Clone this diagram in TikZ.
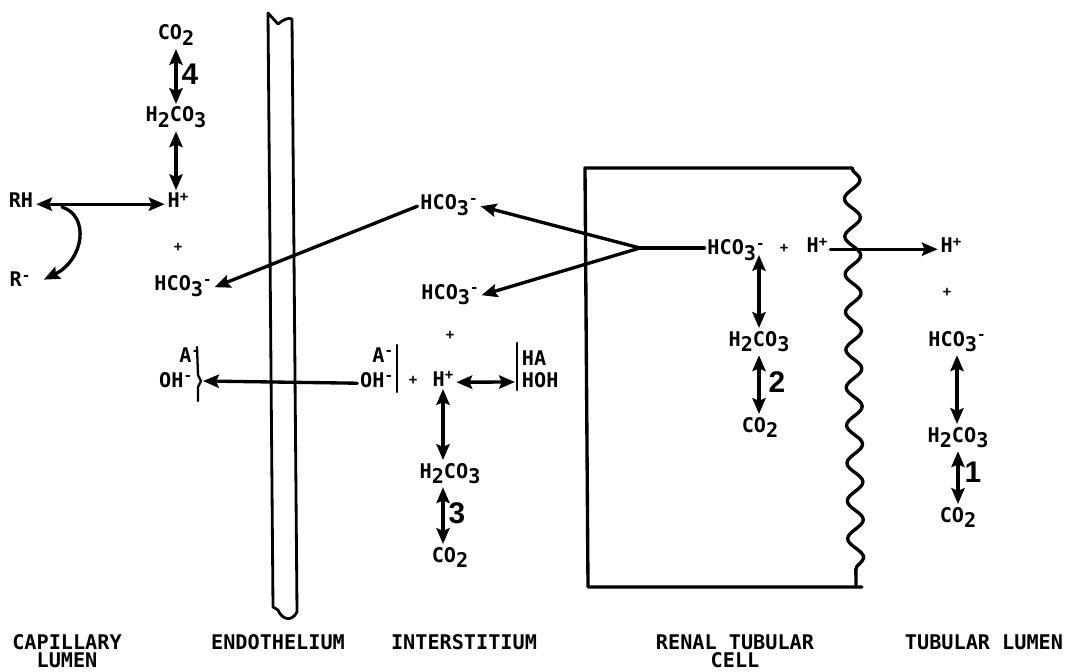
\documentclass[tikz,border=0pt]{standalone}
\usepackage{fontspec}
\newfontfamily\chemfont{DejaVu Sans Mono}
\newfontfamily\numfont{Liberation Sans}
\usetikzlibrary{arrows.meta,decorations.pathmorphing}
\newcommand{\chsub}[1]{\raisebox{-3.4pt}{#1}}
\newcommand{\chsup}[1]{\raisebox{3.8pt}{\fontsize{8}{8}\selectfont #1}}
\newcommand{\chplus}{{\fontsize{8}{8}\selectfont +}}

\begin{document}
\begin{tikzpicture}[x=0.02cm,y=-0.02cm,line cap=round,line join=round,
  chem/.style={font=\chemfont\bfseries\fontsize{11.5}{12}\selectfont,inner sep=1.5pt,anchor=base},
  zone/.style={font=\chemfont\bfseries\fontsize{11.5}{10.4}\selectfont,align=center,inner sep=0pt,anchor=north},
  num/.style={font=\numfont\bfseries\fontsize{17}{17}\selectfont,inner sep=0pt},
  ln/.style={line width=1.9pt},
  arr/.style={ln,-{Stealth[length=9pt,width=7.5pt,inset=1.5pt]}},
  dbl/.style={ln,{Stealth[length=9pt,width=7.5pt,inset=1.5pt]}-{Stealth[length=9pt,width=7.5pt,inset=1.5pt]}}]
  \useasboundingbox (0,0) rectangle (1065,672);

  \draw[line width=1.6pt] (273,607) -- (268,13) -- (278,24) .. controls (283,20) and (288,17) .. (292,19)
    -- (297,612) .. controls (292,622) and (282,620) .. (278,610) -- cycle;
  \draw[line width=1.9pt] (852,168) -- (585,168) -- (588,587) -- (862,587);
  \draw[line width=1.9pt,decorate,decoration={snake,segment length=21.5pt,amplitude=4.5pt}] (852,168) -- (856,585);

  \node[chem] (co2d) at (176,40) {CO\chsub{2}};
  \node[num] (n4) at (190,74) {4};
  \node[chem] (hcod) at (176,122) {H\chsub{2}CO\chsub{3}};
  \node[chem] (hpd) at (178,208) {H\chsup{+}};
  \node[chem,anchor=center] (plusd) at (178,247) {\chplus};
  \node[chem] (bicd) at (183,291) {HCO\chsub{3}\chsup{-}};
  \node[chem] (rh) at (21,208) {RH};
  \node[chem] (rm) at (20,287) {R\chsup{-}};
  \node[chem,anchor=base east] (aid) at (203,362) {A\chsup{-}};
  \node[chem,anchor=base east] (ohd) at (195,387) {OH\chsup{-}};
  \draw[line width=1.3pt] (197,347) -- (198,375) -- (201,381) -- (198,387) -- (198,401);
  \coordinate (braced) at (203,381);
  \coordinate (rhfoot) at (62,207);

  \draw[dbl] (co2d.south) -- (co2d.south |- hcod.north);
  \draw[dbl] (hcod.south) -- (hcod.south |- hpd.north);
  \draw[dbl] (rh.mid east) -- (hpd.mid west);
  \draw[arr] (rhfoot) .. controls (90,216) and (84,260) .. ([xshift=6pt]rm.east);

  \node[chem] (bica) at (449,210) {HCO\chsub{3}\chsup{-}};
  \node[chem] (bicb) at (450,299) {HCO\chsub{3}\chsup{-}};
  \node[chem,anchor=center] (plusb) at (450,335) {\chplus};
  \node[chem,anchor=base east] (aib) at (396,362) {A\chsup{-}};
  \node[chem,anchor=base east] (ohb) at (396,387) {OH\chsup{-}};
  \node[chem,anchor=center] (plusa) at (413,380) {\chplus};
  \node[chem] (hpb) at (443,386) {H\chsup{+}};
  \node[chem,anchor=base west] (hab) at (519,365) {HA};
  \node[chem,anchor=base west] (hohb) at (519,387) {HOH};
  \node[chem] (hcob) at (450,478) {H\chsub{2}CO\chsub{3}};
  \node[num] (n3) at (457,513) {3};
  \node[chem] (co2b) at (450,562) {CO\chsub{2}};
  \draw[line width=1.3pt] (397,345) -- (397,392);
  \draw[line width=1.3pt] (517,343) -- (517,390);
  \coordinate (barha) at (515,382);

  \draw[arr] (ohb.mid west) -- (braced);
  \draw[arr] (bica.mid west) -- (bicd.mid east);
  \draw[dbl] (hpb.mid east) -- (barha);
  \draw[dbl] (hpb.south) -- (hpb.south |- hcob.north);
  \draw[dbl] (hpb.south |- hcob.south) -- (hpb.south |- co2b.north);

  \node[chem] (bicc) at (736,255) {HCO\chsub{3}\chsup{-}};
  \node[chem,anchor=center] (plusc) at (784,248) {\chplus};
  \node[chem] (hpc) at (817,253) {H\chsup{+}};
  \node[chem] (hcoc) at (759,346) {H\chsub{2}CO\chsub{3}};
  \node[num] (n2) at (777,382) {2};
  \node[chem] (co2c) at (760,432) {CO\chsub{2}};
  \coordinate (fork) at (640,248);

  \draw[ln] (fork) -- (fork -| bicc.west);
  \draw[arr] (fork) -- (bica.mid east);
  \draw[arr] (fork) -- (bicb.mid east);
  \draw[dbl] (hcoc.north |- bicc.base) -- (hcoc.north);
  \draw[dbl] (hcoc.south) -- (hcoc.south |- co2c.north);

  \node[chem] (hpe) at (951,253) {H\chsup{+}};
  \node[chem,anchor=center] (pluse) at (947,292) {\chplus};
  \node[chem] (bice) at (957,346) {HCO\chsub{3}\chsup{-}};
  \node[chem] (hcoe) at (958,442) {H\chsub{2}CO\chsub{3}};
  \node[num] (n1) at (973,472) {1};
  \node[chem] (co2e) at (958,522) {CO\chsub{2}};

  \draw[arr] (hpc.mid east) -- (hpe.mid west);
  \draw[dbl] (bice.south) -- (bice.south |- hcoe.north);
  \draw[dbl] (hcoe.south) -- (hcoe.south |- co2e.north);

  \node[zone] (capl) at (67,634) {CAPILLARY\\LUMEN};
  \node[zone] (endo) at (278,634) {ENDOTHELIUM};
  \node[zone] (inter) at (464,634) {INTERSTITIUM};
  \node[zone] (rtc) at (735,634) {RENAL TUBULAR\\CELL};
  \node[zone] (tlum) at (984,634) {TUBULAR LUMEN};
\end{tikzpicture}
\end{document}
